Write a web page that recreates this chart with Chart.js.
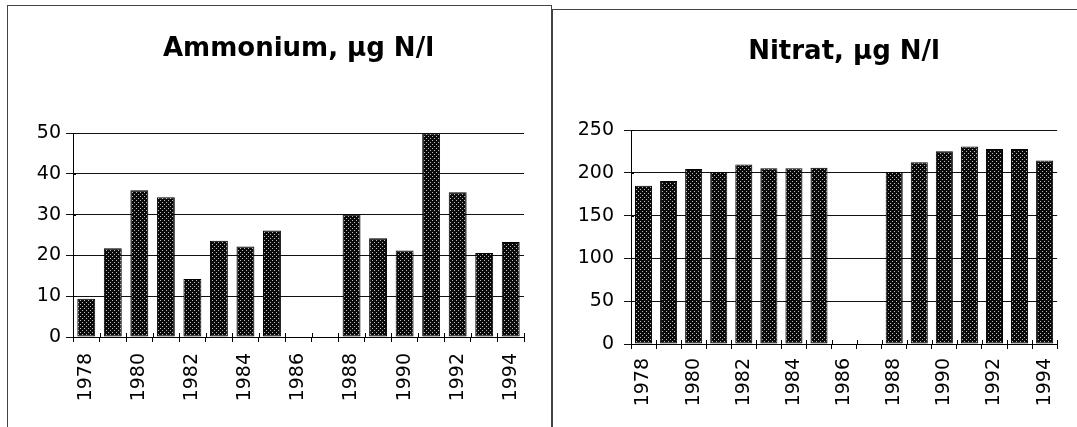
<!DOCTYPE html>
<html>
<head>
<meta charset="utf-8">
<script src="https://cdn.jsdelivr.net/npm/chart.js@4"></script>
<style>
  html, body { margin: 0; padding: 0; background: #fff; width: 1077px; height: 427px; overflow: hidden; position: relative; }
  .panel { position: absolute; border: 1px solid #444; box-sizing: border-box; }
  canvas { position: absolute; }
</style>
</head>
<body>
<div class="panel" style="left:7px; top:5px; width:545px; height:440px;"></div>
<div class="panel" style="left:552px; top:9px; width:600px; height:440px;"></div>
<canvas id="c1" width="541" height="421" style="left:10px; top:6px;"></canvas>
<canvas id="c2" width="523" height="416" style="left:554px; top:11px;"></canvas>
<script>
// ---- data ----
const years = ['1978','1979','1980','1981','1982','1983','1984','1985','1986','1987','1988','1989','1990','1991','1992','1993','1994'];
const ammonium = [9.4, 21.8, 36.0, 34.3, 14.2, 23.6, 22.2, 26.1, null, null, 30.1, 24.2, 21.2, 50, 35.5, 20.6, 23.3];
const nitrat = [185, 190.5, 204.5, 201, 210, 205.5, 205.5, 206, null, null, 201, 212.5, 225.5, 231, 228, 228, 214.5];
const ammoniumTicks = [0, 10, 20, 30, 40, 50];
const nitratTicks = [0, 50, 100, 150, 200, 250];
const titles = ['Ammonium, \u00b5g N/l', 'Nitrat, \u00b5g N/l'];

// dotted bar fill pattern
function makePattern() {
  const p = document.createElement('canvas');
  p.width = 4; p.height = 4;
  const g = p.getContext('2d');
  g.fillStyle = '#0a0a0a';
  g.fillRect(0, 0, 4, 4);
  g.fillStyle = '#bdbdbd';
  g.fillRect(0, 0, 1, 1);
  g.fillRect(2, 2, 1, 1);
  return g.createPattern(p, 'repeat');
}
const FONT = '"DejaVu Sans", "Liberation Sans", sans-serif';

// tick marks crossing the axes (upward on x axis, rightward on y axis)
const crossTicks = {
  id: 'crossTicks',
  afterDraw(chart) {
    const { ctx, scales: { x, y } } = chart;
    ctx.save();
    ctx.strokeStyle = '#000';
    ctx.lineWidth = 1;
    ctx.beginPath();
    for (let i = 0; i <= years.length; i++) {
      const px = Math.round(x.getPixelForValue(i - 0.5)) + 0.5;
      ctx.moveTo(px, y.bottom - 4);
      ctx.lineTo(px, y.bottom);
    }
    y.ticks.forEach(t => {
      const py = Math.round(y.getPixelForValue(t.value)) + 0.5;
      ctx.moveTo(x.left, py);
      ctx.lineTo(x.left + 3, py);
    });
    ctx.stroke();
    ctx.restore();
  }
};

function makeChart(id, title, values, tickVals, cfg) {
  const ctx = document.getElementById(id).getContext('2d');
  const pattern = makePattern();
  return new Chart(ctx, {
    type: 'bar',
    data: {
      labels: years,
      datasets: [{
        data: values,
        backgroundColor: pattern,
        borderColor: '#000',
        borderWidth: 1,
        borderSkipped: false,
        barPercentage: cfg.barPct,
        categoryPercentage: 1
      }]
    },
    plugins: [crossTicks],
    options: {
      responsive: false,
      animation: false,
      events: [],
      layout: { padding: { left: 0, right: cfg.padRight, top: 0, bottom: 0 } },
      plugins: {
        legend: { display: false },
        tooltip: { enabled: false },
        title: {
          display: true,
          text: title,
          fullSize: false,
          color: '#000',
          font: { family: FONT, size: 26, weight: 'bold', lineHeight: 1.2 },
          padding: { top: cfg.titleTop, bottom: cfg.titleBottom }
        }
      },
      scales: {
        x: {
          offset: true,
          grid: { drawOnChartArea: false, drawTicks: true, tickLength: 5, color: '#000', offset: true },
          border: { display: true, color: '#000', width: 1 },
          ticks: {
            autoSkip: false,
            maxRotation: 90,
            minRotation: 90,
            padding: cfg.xPad,
            color: '#000',
            font: { family: FONT, size: 19 },
            callback: (v, i) => (i % 2 === 0 ? years[i] : '')
          },
          afterFit: s => { s.height = cfg.xHeight; }
        },
        y: {
          min: tickVals[0],
          max: tickVals[tickVals.length - 1],
          afterBuildTicks: s => { s.ticks = tickVals.map(v => ({ value: v })); },
          grid: { color: '#111', lineWidth: 1, tickLength: 7, drawTicks: true },
          border: { display: true, color: '#000', width: 1 },
          ticks: {
            padding: cfg.yPad,
            color: '#000',
            font: { family: FONT, size: 19 }
          },
          afterFit: s => { s.width = cfg.yWidth; }
        }
      }
    }
  });
}

makeChart('c1', titles[0], ammonium, ammoniumTicks, {
  barPct: 0.675, padRight: 27, titleTop: 28, titleBottom: 68,
  xHeight: 90, xPad: 11, yWidth: 63, yPad: 5
});
makeChart('c2', titles[1], nitrat, nitratTicks, {
  barPct: 0.68, padRight: 19, titleTop: 26, titleBottom: 62,
  xHeight: 83, xPad: 9, yWidth: 77, yPad: 10
});
</script>
</body>
</html>
